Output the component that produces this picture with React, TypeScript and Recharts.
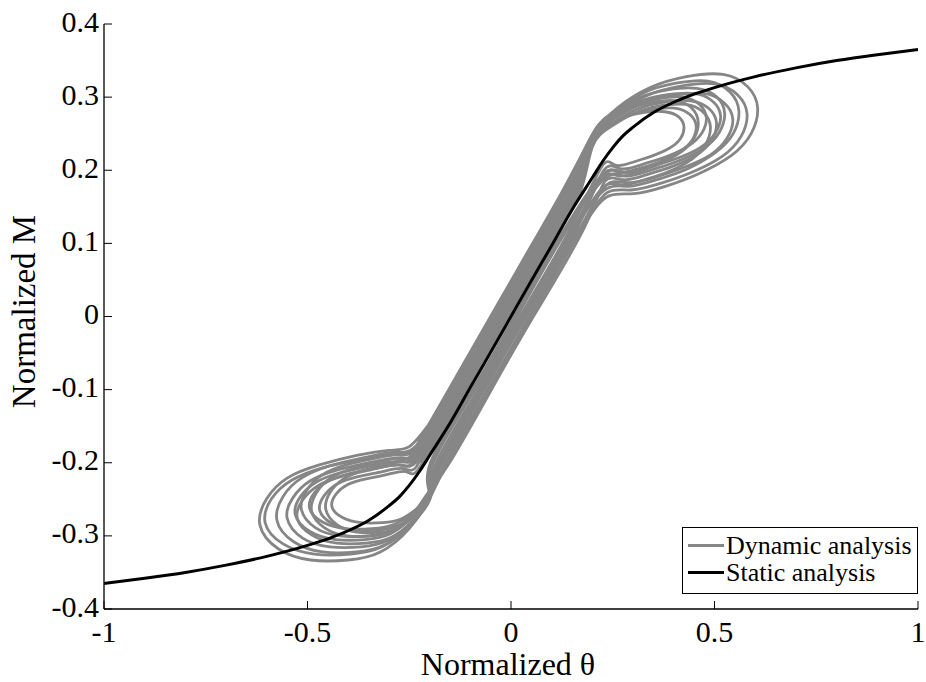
import React from "react";
import { LineChart, Line, XAxis, YAxis, Legend } from "recharts";

const FONT = '"Liberation Serif", Tinos, "Times New Roman", Times, "DejaVu Serif", serif';
const GRAY = "#868686";

const xTicks = [-1, -0.5, 0, 0.5, 1];
const yTicks = [-0.4, -0.3, -0.2, -0.1, 0, 0.1, 0.2, 0.3, 0.4];

const legendNames = ["Dynamic analysis", "Static analysis"];
const legendColors = [GRAY, "#000"];

// static backbone curve
const staticTheta = [
  -1, -0.9, -0.8, -0.7, -0.6, -0.5, -0.45, -0.4, -0.35, -0.3, -0.275, -0.25, -0.225, -0.2, -0.15, -0.1, -0.05, 0,
  0.05, 0.1, 0.15, 0.2, 0.225, 0.25, 0.275, 0.3, 0.35, 0.4, 0.45, 0.5, 0.6, 0.7, 0.8, 0.9, 1,
];
const staticM = [
  -0.365, -0.358, -0.35, -0.34, -0.328, -0.313, -0.304, -0.293, -0.279, -0.259, -0.247, -0.231, -0.212, -0.19, -0.146, -0.097, -0.049, 0,
  0.049, 0.097, 0.146, 0.19, 0.212, 0.231, 0.247, 0.259, 0.279, 0.293, 0.304, 0.313, 0.328, 0.34, 0.35, 0.358, 0.365,
];

// dynamic response, one array per cycle: [theta, M]
const cycle1: [number, number][] = [
  [-0.256, -0.2], [-0.153, -0.1], [-0.05, 0], [0.053, 0.1], [0.125, 0.17],
  [0.2, 0.245], [0.261, 0.285], [0.342, 0.313], [0.431, 0.328], [0.521, 0.331], [0.582, 0.314], [0.606, 0.285],
  [0.59, 0.25], [0.541, 0.22], [0.46, 0.195], [0.379, 0.178], [0.302, 0.168], [0.241, 0.165],
  [0.174, 0.12], [0.05, 0], [-0.053, -0.1], [-0.156, -0.2],
  [-0.2, -0.249], [-0.25, -0.29], [-0.321, -0.322], [-0.4, -0.333], [-0.492, -0.333], [-0.571, -0.318], [-0.617, -0.285],
  [-0.6, -0.249], [-0.55, -0.221], [-0.471, -0.203], [-0.379, -0.19], [-0.3, -0.183], [-0.25, -0.178], [-0.205, -0.15],
];
const cycle2: [number, number][] = [
  [-0.241, -0.2], [-0.138, -0.1], [-0.035, 0], [0.068, 0.1], [0.14, 0.17],
  [0.2, 0.246], [0.254, 0.281], [0.326, 0.306], [0.405, 0.319], [0.484, 0.322], [0.538, 0.307], [0.56, 0.281],
  [0.546, 0.25], [0.502, 0.224], [0.43, 0.201], [0.358, 0.187], [0.29, 0.178], [0.236, 0.175],
  [0.154, 0.12], [0.03, 0], [-0.073, -0.1], [-0.176, -0.2],
  [-0.2, -0.249], [-0.248, -0.286], [-0.317, -0.315], [-0.394, -0.325], [-0.483, -0.325], [-0.56, -0.311], [-0.604, -0.282],
  [-0.588, -0.249], [-0.539, -0.224], [-0.463, -0.207], [-0.374, -0.196], [-0.297, -0.189], [-0.248, -0.185], [-0.19, -0.15],
];
const cycle3: [number, number][] = [
  [-0.226, -0.2], [-0.123, -0.1], [-0.02, 0], [0.083, 0.1], [0.155, 0.17],
  [0.2, 0.24], [0.252, 0.27], [0.321, 0.291], [0.397, 0.302], [0.473, 0.305], [0.524, 0.292], [0.545, 0.27],
  [0.531, 0.244], [0.49, 0.221], [0.421, 0.203], [0.352, 0.19], [0.286, 0.183], [0.235, 0.18],
  [0.169, 0.12], [0.045, 0], [-0.058, -0.1], [-0.161, -0.2],
  [-0.2, -0.248], [-0.242, -0.28], [-0.302, -0.306], [-0.368, -0.315], [-0.445, -0.315], [-0.512, -0.303], [-0.55, -0.276],
  [-0.536, -0.248], [-0.494, -0.225], [-0.428, -0.21], [-0.351, -0.2], [-0.284, -0.194], [-0.242, -0.19], [-0.175, -0.15],
];
const cycle4: [number, number][] = [
  [-0.251, -0.2], [-0.148, -0.1], [-0.045, 0], [0.058, 0.1], [0.13, 0.17],
  [0.2, 0.249], [0.249, 0.278], [0.314, 0.299], [0.385, 0.31], [0.457, 0.312], [0.506, 0.3], [0.525, 0.278],
  [0.512, 0.252], [0.473, 0.23], [0.408, 0.212], [0.343, 0.2], [0.281, 0.192], [0.233, 0.19],
  [0.139, 0.12], [0.015, 0], [-0.088, -0.1], [-0.191, -0.2],
  [-0.2, -0.246], [-0.24, -0.274], [-0.296, -0.297], [-0.358, -0.305], [-0.431, -0.305], [-0.494, -0.294], [-0.53, -0.271],
  [-0.517, -0.246], [-0.477, -0.226], [-0.415, -0.213], [-0.342, -0.204], [-0.279, -0.198], [-0.24, -0.195], [-0.2, -0.15],
];
const cycle5: [number, number][] = [
  [-0.216, -0.2], [-0.113, -0.1], [-0.01, 0], [0.093, 0.1], [0.165, 0.17],
  [0.2, 0.238], [0.246, 0.264], [0.307, 0.283], [0.374, 0.293], [0.441, 0.295], [0.487, 0.284], [0.505, 0.264],
  [0.493, 0.241], [0.456, 0.221], [0.395, 0.205], [0.334, 0.194], [0.276, 0.187], [0.231, 0.185],
  [0.179, 0.12], [0.055, 0], [-0.048, -0.1], [-0.151, -0.2],
  [-0.2, -0.238], [-0.238, -0.268], [-0.291, -0.292], [-0.351, -0.3], [-0.42, -0.3], [-0.48, -0.289], [-0.515, -0.264],
  [-0.502, -0.238], [-0.465, -0.217], [-0.405, -0.203], [-0.335, -0.194], [-0.276, -0.189], [-0.238, -0.185], [-0.165, -0.15],
];
const cycle6: [number, number][] = [
  [-0.234, -0.2], [-0.131, -0.1], [-0.028, 0], [0.075, 0.1], [0.147, 0.17],
  [0.2, 0.248], [0.242, 0.272], [0.298, 0.289], [0.36, 0.298], [0.421, 0.3], [0.463, 0.29], [0.48, 0.272],
  [0.469, 0.251], [0.435, 0.233], [0.379, 0.218], [0.323, 0.208], [0.27, 0.202], [0.228, 0.2],
  [0.162, 0.12], [0.038, 0], [-0.065, -0.1], [-0.168, -0.2],
  [-0.2, -0.241], [-0.235, -0.265], [-0.286, -0.284], [-0.342, -0.29], [-0.407, -0.29], [-0.463, -0.281], [-0.495, -0.262],
  [-0.483, -0.241], [-0.448, -0.225], [-0.392, -0.214], [-0.327, -0.207], [-0.271, -0.203], [-0.235, -0.2], [-0.183, -0.15],
];
const cycle7: [number, number][] = [
  [-0.246, -0.2], [-0.143, -0.1], [-0.04, 0], [0.063, 0.1], [0.135, 0.17],
  [0.2, 0.238], [0.238, 0.26], [0.289, 0.275], [0.345, 0.283], [0.401, 0.285], [0.44, 0.276], [0.455, 0.26],
  [0.445, 0.241], [0.414, 0.225], [0.363, 0.211], [0.312, 0.202], [0.264, 0.197], [0.226, 0.195],
  [0.132, 0.12], [0.008, 0], [-0.095, -0.1], [-0.198, -0.2],
  [-0.2, -0.245], [-0.232, -0.268], [-0.278, -0.286], [-0.33, -0.292], [-0.389, -0.292], [-0.44, -0.283], [-0.47, -0.265],
  [-0.459, -0.245], [-0.427, -0.229], [-0.376, -0.219], [-0.316, -0.212], [-0.265, -0.208], [-0.232, -0.205], [-0.195, -0.15],
];
const cycle8: [number, number][] = [
  [-0.221, -0.2], [-0.118, -0.1], [-0.015, 0], [0.088, 0.1], [0.16, 0.17],
  [0.2, 0.241], [0.234, 0.259], [0.279, 0.272], [0.328, 0.279], [0.378, 0.28], [0.412, 0.273], [0.425, 0.259],
  [0.416, 0.243], [0.389, 0.23], [0.344, 0.219], [0.299, 0.211], [0.256, 0.207], [0.223, 0.205],
  [0.146, 0.12], [0.022, 0], [-0.081, -0.1], [-0.184, -0.2],
  [-0.2, -0.243], [-0.229, -0.262], [-0.27, -0.277], [-0.315, -0.282], [-0.368, -0.282], [-0.414, -0.275], [-0.44, -0.26],
  [-0.43, -0.243], [-0.402, -0.23], [-0.356, -0.222], [-0.303, -0.216], [-0.258, -0.212], [-0.229, -0.21], [-0.17, -0.15],
];
const cycle9: [number, number][] = [
  [-0.236, -0.2], [-0.133, -0.1], [-0.03, 0], [0.073, 0.1], [0.145, 0.17],
  [0.2, 0.241], [0.257, 0.277], [0.333, 0.302], [0.417, 0.315], [0.5, 0.318], [0.557, 0.303], [0.58, 0.277],
  [0.565, 0.246], [0.519, 0.219], [0.443, 0.197], [0.367, 0.182], [0.295, 0.173], [0.238, 0.17],
  [0.174, 0.12], [0.05, 0], [-0.053, -0.1], [-0.156, -0.2],
  [-0.2, -0.246], [-0.245, -0.283], [-0.309, -0.312], [-0.38, -0.322], [-0.463, -0.322], [-0.534, -0.308], [-0.575, -0.279],
  [-0.56, -0.246], [-0.515, -0.221], [-0.444, -0.204], [-0.361, -0.193], [-0.29, -0.186], [-0.245, -0.182], [-0.185, -0.15],
];
const cycle10: [number, number][] = [
  [-0.254, -0.2], [-0.151, -0.1], [-0.048, 0], [0.055, 0.1], [0.127, 0.17],
  [0.2, 0.248], [0.247, 0.274], [0.31, 0.293], [0.38, 0.303], [0.449, 0.305], [0.496, 0.294], [0.515, 0.274],
  [0.502, 0.251], [0.465, 0.231], [0.402, 0.215], [0.339, 0.204], [0.279, 0.197], [0.232, 0.195],
  [0.152, 0.12], [0.028, 0], [-0.075, -0.1], [-0.178, -0.2],
  [-0.2, -0.241], [-0.235, -0.269], [-0.284, -0.292], [-0.339, -0.3], [-0.403, -0.3], [-0.458, -0.289], [-0.49, -0.266],
  [-0.478, -0.241], [-0.444, -0.221], [-0.389, -0.208], [-0.325, -0.199], [-0.27, -0.193], [-0.235, -0.19], [-0.203, -0.15],
];
const cycle11: [number, number][] = [
  [-0.211, -0.2], [-0.108, -0.1], [-0.005, 0], [0.098, 0.1], [0.17, 0.17],
  [0.2, 0.232], [0.244, 0.259], [0.302, 0.278], [0.365, 0.288], [0.429, 0.29], [0.473, 0.279], [0.49, 0.259],
  [0.478, 0.235], [0.444, 0.215], [0.386, 0.198], [0.328, 0.187], [0.273, 0.18], [0.229, 0.178],
  [0.159, 0.12], [0.035, 0], [-0.068, -0.1], [-0.171, -0.2],
  [-0.2, -0.251], [-0.239, -0.279], [-0.294, -0.302], [-0.356, -0.31], [-0.428, -0.31], [-0.489, -0.299], [-0.525, -0.276],
  [-0.512, -0.251], [-0.473, -0.231], [-0.411, -0.218], [-0.34, -0.209], [-0.278, -0.203], [-0.239, -0.2], [-0.16, -0.15],
];
const cycle12: [number, number][] = [
  [-0.228, -0.2], [-0.125, -0.1], [-0.022, 0], [0.081, 0.1], [0.153, 0.17],
  [0.2, 0.24], [0.239, 0.266], [0.291, 0.284], [0.348, 0.293], [0.405, 0.295], [0.444, 0.285], [0.46, 0.266],
  [0.45, 0.244], [0.418, 0.225], [0.366, 0.209], [0.314, 0.198], [0.265, 0.192], [0.226, 0.19],
  [0.136, 0.12], [0.012, 0], [-0.091, -0.1], [-0.194, -0.2],
  [-0.2, -0.241], [-0.231, -0.267], [-0.274, -0.288], [-0.322, -0.295], [-0.379, -0.295], [-0.427, -0.285], [-0.455, -0.264],
  [-0.445, -0.241], [-0.414, -0.223], [-0.366, -0.211], [-0.31, -0.203], [-0.261, -0.198], [-0.231, -0.195], [-0.177, -0.15],
];

const cycles = [cycle1, cycle2, cycle3, cycle4, cycle5, cycle6, cycle7, cycle8, cycle9, cycle10, cycle11, cycle12];

const toPoints = (arr: [number, number][]) => arr.map(([theta, m]) => ({ theta, m }));
const staticData = staticTheta.map((theta, i) => ({ theta, m: staticM[i] }));

const YTick = (props: any) => {
  const { x, y, payload } = props;
  return (
    <g>
      <line x1={x} y1={y} x2={x + 8} y2={y} stroke="#000" strokeWidth={1} />
      <text x={x - 5} y={y - 3} textAnchor="end" dominantBaseline="central" fontSize={30} style={{ fontFamily: FONT }} fill="#000">
        {String(payload.value)}
      </text>
    </g>
  );
};

const XTick = (props: any) => {
  const { x, y, payload } = props;
  return (
    <g>
      <line x1={x} y1={y} x2={x} y2={y - 8} stroke="#000" strokeWidth={1} />
      <text x={x} y={y + 22} textAnchor="middle" dominantBaseline="central" fontSize={30} style={{ fontFamily: FONT }} fill="#000">
        {String(payload.value)}
      </text>
    </g>
  );
};

const renderYLabel = (props: any) => {
  const { viewBox } = props;
  const cx = viewBox.x + 24;
  const cy = viewBox.y + viewBox.height / 2 - 5;
  return (
    <text
      x={cx}
      y={cy}
      transform={`rotate(-90 ${cx} ${cy})`}
      textAnchor="middle"
      dominantBaseline="central"
      fontSize={33}
      style={{ fontFamily: FONT }}
      fill="#000"
    >
      Normalized M
    </text>
  );
};

const renderXLabel = (props: any) => {
  const { viewBox } = props;
  return (
    <text
      x={viewBox.x + viewBox.width / 2 - 3}
      y={viewBox.y + 66}
      textAnchor="middle"
      fontSize={32}
      style={{ fontFamily: FONT }}
      fill="#000"
    >
      Normalized θ
    </text>
  );
};

const renderLegend = () => (
  <div
    style={{
      width: 236,
      height: 67,
      boxSizing: "border-box",
      border: "1.5px solid #000",
      background: "#fff",
      fontFamily: FONT,
      fontSize: 26,
      color: "#000",
      paddingTop: 4,
    }}
  >
    {legendNames.map((name, i) => (
      <div key={name} style={{ display: "flex", alignItems: "center", height: 27, whiteSpace: "nowrap" }}>
        <span style={{ display: "inline-block", width: 36, height: 3, background: legendColors[i], marginLeft: 5, marginRight: 2 }} />
        <span>{name}</span>
      </div>
    ))}
  </div>
);

export default function App() {
  return (
    <div style={{ position: "absolute", left: 0, top: 0, background: "#fff" }}>
      <LineChart width={926} height={682} margin={{ top: 24, right: 8, bottom: 0, left: 0 }}>
        <XAxis
          dataKey="theta"
          type="number"
          domain={[-1, 1]}
          ticks={xTicks}
          tick={<XTick />}
          tickLine={false}
          tickSize={0}
          tickMargin={0}
          height={73}
          axisLine={{ stroke: "#000", strokeWidth: 1.3 }}
          allowDataOverflow
          label={{ value: "Normalized θ", content: renderXLabel }}
        />
        <YAxis
          type="number"
          domain={[-0.4, 0.4]}
          ticks={yTicks}
          tick={<YTick />}
          tickLine={false}
          tickSize={0}
          tickMargin={0}
          width={104}
          axisLine={{ stroke: "#000", strokeWidth: 1.3 }}
          allowDataOverflow
          label={{ value: "Normalized M", content: renderYLabel }}
        />
        <Legend
          layout="vertical"
          align="center"
          verticalAlign="middle"
          wrapperStyle={{ left: 682, top: 527, width: 236 }}
          content={renderLegend}
        />
        {cycles.map((c, i) => (
          <Line
            key={"dyn" + i}
            data={toPoints(c)}
            dataKey="m"
            type="natural"
            stroke={GRAY}
            strokeWidth={2.8}
            dot={false}
            activeDot={false}
            isAnimationActive={false}
            name="Dynamic analysis"
          />
        ))}
        <Line
          data={staticData}
          dataKey="m"
          type="monotone"
          stroke="#000"
          strokeWidth={3}
          dot={false}
          activeDot={false}
          isAnimationActive={false}
          name="Static analysis"
        />
      </LineChart>
    </div>
  );
}
